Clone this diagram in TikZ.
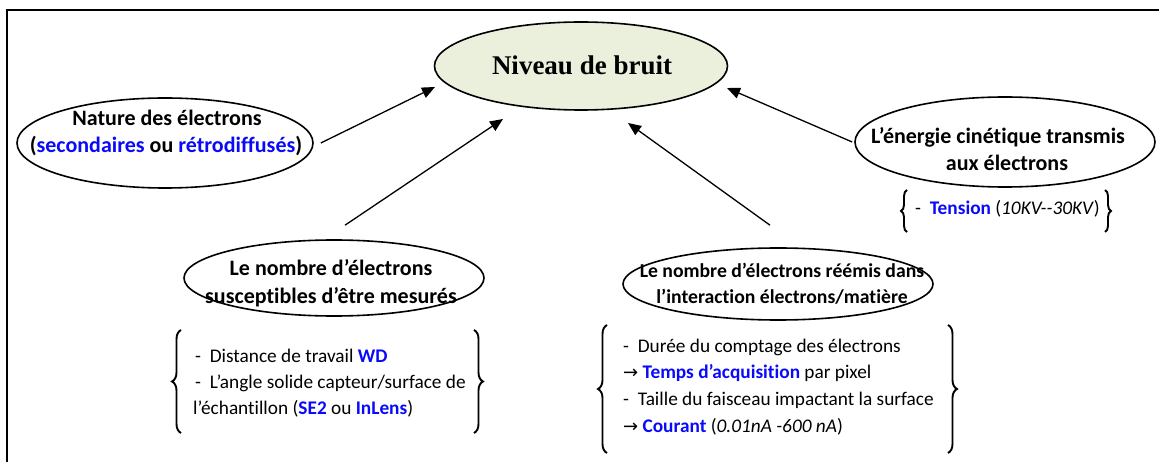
\documentclass[tikz,border=0pt]{standalone}
\usepackage{fontspec}
\setmainfont{Carlito}[Ligatures={TeX,NoCommon}]
\newfontfamily\titlefont{Liberation Serif}
\newfontfamily\symfont{DejaVu Sans}
\usetikzlibrary{shapes.geometric,arrows.meta,decorations.pathreplacing}
\definecolor{kblue}{RGB}{10,10,250}
\definecolor{kgreen}{RGB}{234,240,220}
\newcommand{\bl}[1]{\textbf{\textcolor{kblue}{#1}}}
\newcommand{\rarr}{{\symfont\fontsize{18}{18}\selectfont →}}
\begin{document}
\begin{tikzpicture}[x=1pt,y=-1pt,
 oval/.style={ellipse,draw,line width=1.6pt,inner sep=0pt},
 otext/.style={anchor=base,inner sep=0pt,font=\fontsize{22}{27}\selectfont\bfseries},
 arr/.style={line width=1.3pt,-{Triangle[length=13pt,width=11pt]}},
 lst/.style={anchor=base west,inner sep=0pt,font=\fontsize{19.3}{22}\selectfont},
 brc/.style={decorate,decoration={brace,amplitude=9pt},line width=1.9pt}]
\useasboundingbox (0,0) rectangle (1159,462);
\draw[line width=2pt] (7,462) -- (7,10) -- (1159,10);

% ellipses
\node[oval, fill=kgreen, minimum width=293pt, minimum height=88pt] (niveau) at (581,66) {};
\node[oval, minimum width=296pt, minimum height=90pt] (nature) at (165,143) {};
\node[oval, minimum width=300pt, minimum height=90pt] (energie) at (1005,142) {};
\node[oval, minimum width=300pt, minimum height=76pt] (nb1) at (334,278) {};
\node[oval, minimum width=310pt, minimum height=72pt] (nb2) at (778,284) {};

% ellipse texts
\node[otext, font=\titlefont\fontsize{27}{30}\selectfont\bfseries] (niveau-t) at (582,75) {Niveau de bruit};
\node[otext] (nature-t1) at (167,126) {Nature des électrons};
\node[otext] (nature-t2) at (166,153) {(\textcolor{kblue}{secondaires} ou \textcolor{kblue}{rétrodiffusés})};
\node[otext] (energie-t1) at (998,144) {L’énergie cinétique transmis};
\node[otext] (energie-t2) at (1007,171) {aux électrons};
\node[otext] (nb1-t1) at (331,276) {Le nombre d’électrons};
\node[otext] (nb1-t2) at (331,303) {susceptibles d’être mesurés};
\node[otext, font=\fontsize{19.7}{25}\selectfont\bfseries] (nb2-t1) at (782,278) {Le nombre d’électrons réémis dans};
\node[otext, font=\fontsize{19.7}{25}\selectfont\bfseries] (nb2-t2) at (782,303) {l’interaction électrons/matière};

% arrows
\coordinate (t1) at (435,87);
\coordinate (t2) at (503,119);
\coordinate (t3) at (628,123);
\coordinate (t4) at (727,88);
\draw[arr] ([xshift=7pt]nature.east) -- (t1);
\draw[arr] ([xshift=11pt,yshift=14pt]nb1.north) -- (t2);
\draw[arr] ([xshift=-8pt,yshift=22pt]nb2.north) -- (t3);
\draw[arr] ([xshift=-2pt]energie.west) -- (t4);

% list under nb1
\node[lst] (l1) at (195,362) {-\ \ Distance de travail \bl{WD}};
\node[lst] (l2) at (195,388) {-\ \ L’angle solide capteur/surface de};
\node[lst] (l3) at (193,414) {l’échantillon (\bl{SE2} ou \bl{InLens})};
\draw[brc] (181,433) -- (181,330);
\draw[brc] (474,330) -- (474,433);

% list under nb2
\node[lst] (m1) at (623,352) {-\ \ Durée du comptage des électrons};
\node[lst] (m2) at (623,378) {\rarr\ \bl{Temps d’acquisition} par pixel};
\node[lst] (m3) at (623,405) {-\ \ Taille du faisceau impactant la surface};
\node[lst] (m4) at (623,432) {\rarr\ \bl{Courant} (\textit{0.01nA -600 nA})};
\draw[brc] (607,453) -- (607,325);
\draw[brc] (948,325) -- (948,453);

% tension
\node[lst] (n1) at (915,215) {-\ \ \bl{Tension} (\textit{10KV-{}-30KV})};
\draw[brc,decoration={brace,amplitude=6pt}] (907,232) -- (907,190);
\draw[brc,decoration={brace,amplitude=6pt}] (1105,190) -- (1105,232);
\end{tikzpicture}
\end{document}
